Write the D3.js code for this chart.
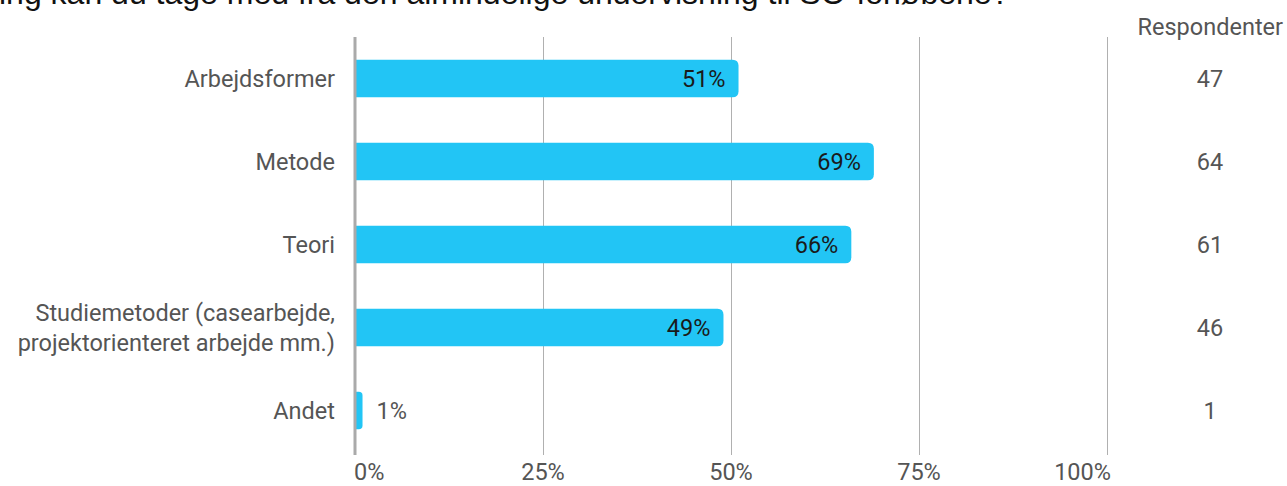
<!DOCTYPE html>
<html><head><meta charset="utf-8">
<script src="https://cdn.jsdelivr.net/npm/d3@7"></script>
<style>body{margin:0;background:#fff;overflow:hidden}svg{display:block}</style>
</head><body>
<script>
const titleText = "ing kan du tage med fra den almindelige undervisning til SO-forløbene?";
const categories = ["Arbejdsformer", "Metode", "Teori", "Studiemetoder (casearbejde,\nprojektorienteret arbejde mm.)", "Andet"];
const percentages = [51, 69, 66, 49, 1];
const respondents = [47, 64, 61, 46, 1];
const tickValues = [0, 25, 50, 75, 100];
const tickLabels = ["0%", "25%", "50%", "75%", "100%"];
const respondentsHeader = "Respondenter";

const W = 1287, H = 486;
const FS = 23.5;
const svg = d3.select("body").append("svg").attr("width", W).attr("height", H);

const x = d3.scaleLinear().domain([0, 100]).range([355, 1107]);
const y = d3.scaleBand().domain(categories).range([37, 452]).paddingInner(0.55).paddingOuter(0.275);

// title (top cut off, as in the reference)
svg.append("text").attr("x", -1).attr("y", 4)
  .attr("font-family", "Liberation Sans, Arial, sans-serif").attr("font-size", 32)
  .attr("fill", "#111").text(titleText);

// gridlines
svg.append("g").selectAll("line").data(tickValues.slice(1)).join("line")
  .attr("x1", d => Math.round(x(d)) + 0.5).attr("x2", d => Math.round(x(d)) + 0.5)
  .attr("y1", 37).attr("y2", 455).attr("stroke", "#b0b0b0").attr("stroke-width", 1);

// tick labels
svg.append("g").selectAll("text").data(tickValues).join("text")
  .attr("x", (d, i) => i === 0 ? x(d) - 1 : (i === tickValues.length - 1 ? x(d) + 4 : x(d)))
  .attr("y", 480)
  .attr("text-anchor", (d, i) => i === 0 ? "start" : (i === tickValues.length - 1 ? "end" : "middle"))
  .attr("font-family", "Roboto, sans-serif").attr("font-size", FS).attr("fill", "#555")
  .text((d, i) => tickLabels[i]);

// bars with rounded right end
const r = 6;
function barPath(x0, x1, y0, h) {
  const w = x1 - x0;
  const rr = Math.min(r, w / 2);
  return `M${x0},${y0}H${x1 - rr}Q${x1},${y0} ${x1},${y0 + rr}V${y0 + h - rr}Q${x1},${y0 + h} ${x1 - rr},${y0 + h}H${x0}Z`;
}
svg.append("g").selectAll("path").data(categories).join("path")
  .attr("d", (c, i) => barPath(x(0), x(percentages[i]), y(c), y.bandwidth()))
  .attr("fill", "#22c5f5");

// value labels
svg.append("g").selectAll("text").data(categories).join("text")
  .attr("x", (c, i) => percentages[i] > 10 ? x(percentages[i]) - 13 : x(percentages[i]) + 14)
  .attr("y", c => y(c) + y.bandwidth() / 2)
  .attr("dy", "0.35em")
  .attr("text-anchor", (c, i) => percentages[i] > 10 ? "end" : "start")
  .attr("font-family", "Roboto, sans-serif").attr("font-size", FS)
  .attr("fill", (c, i) => percentages[i] > 10 ? "#1a1a1a" : "#555")
  .text((c, i) => percentages[i] + "%");

// axis line
svg.append("line").attr("x1", 355).attr("x2", 355).attr("y1", 37).attr("y2", 455)
  .attr("stroke", "#aaa").attr("stroke-width", 3);

// category labels
const cl = svg.append("g").selectAll("text").data(categories).join("text")
  .attr("x", 335).attr("text-anchor", "end")
  .attr("font-family", "Roboto, sans-serif").attr("font-size", FS).attr("fill", "#555");
cl.each(function(c) {
  const lines = c.split("\n");
  const cy = y(c) + y.bandwidth() / 2;
  const lh = 30;
  const t = d3.select(this);
  lines.forEach((ln, k) => {
    t.append("tspan").attr("x", 335)
      .attr("y", cy + (k - (lines.length - 1) / 2) * lh)
      .attr("dy", "0.35em").text(ln);
  });
});

// respondents column
svg.append("text").attr("x", 1283).attr("y", 35).attr("text-anchor", "end")
  .attr("font-family", "Roboto, sans-serif").attr("font-size", FS).attr("fill", "#555")
  .text(respondentsHeader);
svg.append("g").selectAll("text").data(categories).join("text")
  .attr("x", 1210).attr("y", c => y(c) + y.bandwidth() / 2).attr("dy", "0.35em")
  .attr("text-anchor", "middle")
  .attr("font-family", "Roboto, sans-serif").attr("font-size", FS).attr("fill", "#555")
  .text((c, i) => respondents[i]);
</script>
</body></html>
